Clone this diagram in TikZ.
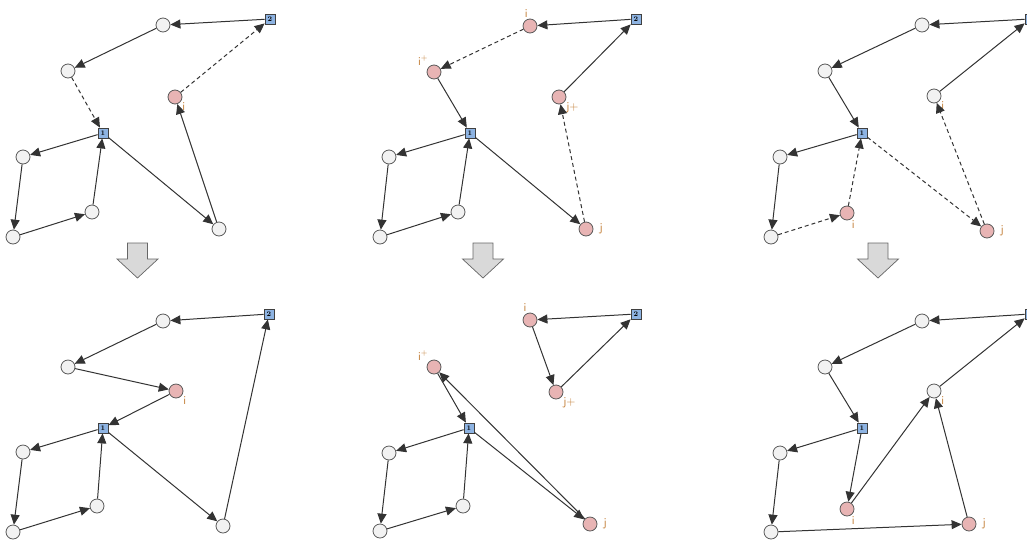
\documentclass[tikz,border=0pt]{standalone}
\usetikzlibrary{arrows.meta}
\definecolor{depotblue}{HTML}{8DB3E2}
\definecolor{visitpink}{HTML}{E8B4B4}
\definecolor{custgray}{HTML}{F2F2F2}
\definecolor{labcol}{HTML}{C07A30}

\begin{document}
\begin{tikzpicture}[x=1pt, y=-1pt,
  cust/.style={circle, draw=black!65, fill=custgray, minimum size=14pt,
               inner sep=0pt, line width=0.8pt},
  pick/.style={cust, fill=visitpink},
  depot/.style={rectangle, draw=black!75, fill=depotblue, minimum size=10pt,
                inner sep=0pt, line width=0.8pt,
                font=\fontsize{7}{7}\selectfont\bfseries},
  arr/.style={-{Triangle[length=10pt,width=9pt]}, line width=1pt, draw=black!80},
  darr/.style={arr, dash pattern=on 4pt off 3pt},
  lab/.style={font=\sffamily\fontsize{12}{14}\selectfont, text=labcol, inner sep=1pt},
  downarrow/.style={draw=black!60, fill=black!15, line width=0.7pt}
]
\useasboundingbox (0,0) rectangle (1027,544);
\clip (0,0) rectangle (1027,544);

% top left: before
\node[depot] (d2) at (270,19) {2};
\node[cust] (a) at (163,25) {};
\node[cust] (b) at (68,71) {};
\node[pick, label={[lab]-35:i}] (i) at (175,97) {};
\node[depot] (d1) at (103,133) {1};
\node[cust] (c) at (23,157) {};
\node[cust] (d) at (13,237) {};
\node[cust] (e) at (92,212) {};
\node[cust] (f) at (219,229) {};
\foreach \s/\t in {d2/a, a/b, d1/c, c/d, d/e, e/d1, d1/f, f/i}
  \draw[arr] (\s) -- (\t);
\foreach \s/\t in {b/d1, i/d2}
  \draw[darr] (\s) -- (\t);

% top middle: before
\node[depot] (d2) at (636,19) {2};
\node[pick, label={[lab]100:i}] (i) at (530,26) {};
\node[pick, label={[lab]130:i$^+$}] (ip) at (434,72) {};
\node[pick, label={[lab]-35:j+}] (jp) at (559,97) {};
\node[depot] (d1) at (470,133) {1};
\node[cust] (c) at (389,157) {};
\node[cust] (d) at (380,237) {};
\node[cust] (e) at (458,212) {};
\node[pick, label={[lab, label distance=5pt]0:j}] (j) at (586,229) {};
\foreach \s/\t in {d2/i, ip/d1, d1/c, c/d, d/e, e/d1, d1/j, jp/d2}
  \draw[arr] (\s) -- (\t);
\foreach \s/\t in {i/ip, j/jp}
  \draw[darr] (\s) -- (\t);

% top right: before
\node[depot] (d2) at (1030,19) {2};
\node[cust] (a) at (922,25) {};
\node[cust] (b) at (825,71) {};
\node[cust, label={[lab]-35:i}] (w) at (934,96) {};
\node[depot] (d1) at (862,133) {1};
\node[cust] (c) at (780,157) {};
\node[cust] (d) at (771,237) {};
\node[pick, label={[lab]-60:i}] (i) at (847,213) {};
\node[pick, label={[lab, label distance=5pt]0:j}] (j) at (987,231) {};
\foreach \s/\t in {d2/a, a/b, b/d1, d1/c, c/d, w/d2}
  \draw[arr] (\s) -- (\t);
\foreach \s/\t in {d/i, i/d1, d1/j, j/w}
  \draw[darr] (\s) -- (\t);

% block arrows
\foreach \cx in {137.5, 483, 878}
  \draw[downarrow] ({\cx-10},243) -- ({\cx+10},243) -- ({\cx+10},259)
    -- ({\cx+20.5},259) -- (\cx,278) -- ({\cx-20.5},259) -- ({\cx-10},259) -- cycle;

% bottom left: after
\node[depot] (d2) at (269,314) {2};
\node[cust] (a) at (163,321) {};
\node[cust] (b) at (68,367) {};
\node[pick, label={[lab]-35:i}] (i) at (176,391) {};
\node[depot] (d1) at (103,428) {1};
\node[cust] (c) at (23,452) {};
\node[cust] (d) at (13,532) {};
\node[cust] (e) at (97,506) {};
\node[cust] (f) at (223,526) {};
\foreach \s/\t in {d2/a, a/b, b/i, i/d1, d1/c, c/d, d/e, e/d1, d1/f, f/d2}
  \draw[arr] (\s) -- (\t);

% bottom middle: after
\node[depot] (d2) at (636,314) {2};
\node[pick, label={[lab]110:i}] (i) at (530,320) {};
\node[pick, label={[lab]-35:j+}] (jp) at (556,392) {};
\node[pick, label={[lab]130:i$^+$}] (ip) at (434,367) {};
\node[depot] (d1) at (469,428) {1};
\node[cust] (c) at (389,453) {};
\node[cust] (d) at (380,531) {};
\node[cust] (e) at (463,506) {};
\node[pick, label={[lab, label distance=5pt]0:j}] (j) at (590,524) {};
\foreach \s/\t in {d2/i, i/jp, jp/d2, ip/d1, d1/c, c/d, d/e, e/d1, d1/j, j/ip}
  \draw[arr] (\s) -- (\t);

% bottom right: after
\node[depot] (d2) at (1030,314) {2};
\node[cust] (a) at (922,321) {};
\node[cust] (b) at (825,367) {};
\node[cust, label={[lab]-35:i}] (w) at (934,391) {};
\node[depot] (d1) at (862,428) {1};
\node[cust] (c) at (780,453) {};
\node[cust] (d) at (771,532) {};
\node[pick, label={[lab]-60:i}] (i) at (847,509) {};
\node[pick, label={[lab, label distance=5pt]0:j}] (j) at (969,524) {};
\foreach \s/\t in {d2/a, a/b, b/d1, d1/c, c/d, d/j, d1/i, i/w, j/w, w/d2}
  \draw[arr] (\s) -- (\t);
\end{tikzpicture}
\end{document}
